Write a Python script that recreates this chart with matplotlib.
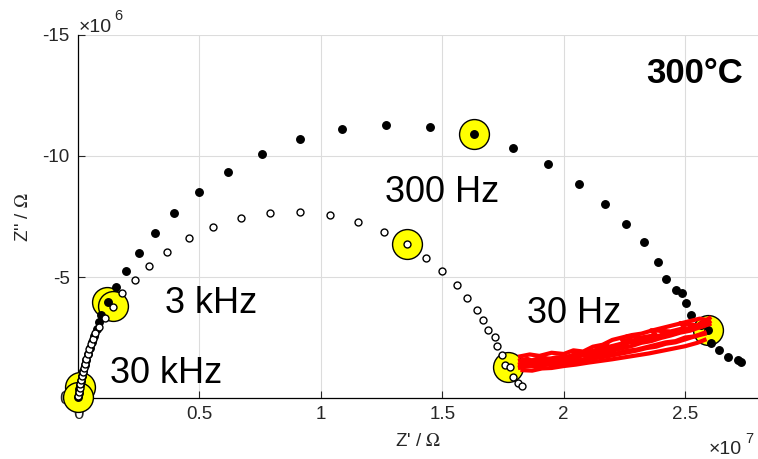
import matplotlib
matplotlib.use("Agg")
import matplotlib.pyplot as plt
import numpy as np

plt.rcParams['font.family'] = ['Liberation Sans', 'DejaVu Sans']
plt.rcParams['mathtext.fontset'] = 'stix'

# Series A (filled black dots): Z' (x1e7), Z'' (x1e6)
a_re = [0.000, 0.004, 0.004, 0.008, 0.012, 0.016, 0.021, 0.029, 0.033, 0.041, 0.049, 0.058,
        0.066, 0.078, 0.087, 0.095, 0.124, 0.157, 0.198, 0.251, 0.317, 0.396, 0.499, 0.618,
        0.758, 0.915, 1.088, 1.270, 1.451, 1.632, 1.793, 1.937, 2.061, 2.168, 2.255, 2.329,
        2.387, 2.420, 2.461, 2.486, 2.502, 2.523, 2.564, 2.593, 2.605, 2.638, 2.675, 2.716,
        2.729]
a_im = [-0.04, -0.21, -0.37, -0.54, -0.70, -0.91, -1.12, -1.36, -1.57, -1.82, -2.07, -2.31,
        -2.56, -2.85, -3.14, -3.43, -3.97, -4.59, -5.25, -5.99, -6.82, -7.64, -8.51, -9.34,
        -10.08, -10.70, -11.12, -11.28, -11.20, -10.91, -10.33, -9.67, -8.84, -8.02, -7.19, -6.45,
        -5.62, -4.92, -4.46, -4.34, -3.93, -3.43, -3.02, -2.81, -2.27, -1.98, -1.69, -1.57,
        -1.49]

# Series B (open circles)
b_re = [0.000, 0.004, 0.008, 0.008, 0.012, 0.016, 0.021, 0.025, 0.029, 0.033, 0.041, 0.045,
        0.054, 0.062, 0.070, 0.087, 0.111, 0.144, 0.181, 0.235, 0.293, 0.367, 0.458, 0.556,
        0.672, 0.791, 0.915, 1.039, 1.154, 1.261, 1.356, 1.434, 1.500, 1.562, 1.603, 1.641,
        1.669, 1.690, 1.715, 1.727, 1.744, 1.760, 1.777, 1.793, 1.810, 1.830]
b_im = [-0.08, -0.25, -0.41, -0.58, -0.74, -0.91, -1.07, -1.24, -1.40, -1.61, -1.82, -2.02,
        -2.23, -2.44, -2.69, -2.93, -3.31, -3.76, -4.34, -4.88, -5.45, -6.03, -6.61, -7.07,
        -7.44, -7.64, -7.69, -7.56, -7.27, -6.86, -6.36, -5.79, -5.25, -4.67, -4.13, -3.64,
        -3.22, -2.81, -2.52, -2.15, -1.78, -1.36, -1.28, -0.87, -0.62, -0.50]

# Highlighted frequencies (30 kHz, 3 kHz, 300 Hz, 30 Hz)
hl_a_re = [0.008, 0.120, 1.632, 2.593]
hl_a_im = [-0.45, -3.97, -10.91, -2.81]
hl_b_re = [0.000, 0.144, 1.356, 1.772]
hl_b_im = [-0.04, -3.80, -6.36, -1.28]

# Red noisy trace (several passes)
red_traces = [
    ([1.83, 1.87, 1.91, 1.95, 2.00, 2.05, 2.10, 2.15, 2.20, 2.25, 2.30, 2.35, 2.40, 2.45, 2.50, 2.55, 2.58],
     [-1.15, -1.13, -1.22, -1.24, -1.32, -1.38, -1.46, -1.53, -1.60, -1.68, -1.76, -1.84, -1.94, -2.04, -2.14, -2.28, -2.40]),
    ([1.82, 1.86, 1.90, 1.95, 2.00, 2.04, 2.08, 2.12, 2.16, 2.20, 2.24, 2.28, 2.32, 2.36, 2.40, 2.44, 2.48, 2.52, 2.56, 2.59],
     [-1.72, -1.80, -1.74, -1.87, -1.82, -1.97, -1.92, -2.12, -2.20, -2.40, -2.50, -2.60, -2.66, -2.78, -2.88, -2.98, -3.08, -3.18, -3.28, -3.22]),
    ([1.84, 1.90, 1.96, 2.02, 2.06, 2.04, 2.10, 2.16, 2.14, 2.20, 2.26, 2.24, 2.30, 2.36, 2.42, 2.40, 2.46, 2.52, 2.58],
     [-1.45, -1.50, -1.55, -1.62, -1.75, -1.85, -1.80, -1.90, -2.05, -2.10, -2.20, -2.40, -2.35, -2.45, -2.60, -2.75, -2.70, -2.85, -3.00]),
    ([2.58, 2.54, 2.50, 2.46, 2.42, 2.38, 2.34, 2.30, 2.26, 2.22, 2.18, 2.14, 2.10, 2.06, 2.02, 1.98, 1.94, 1.90, 1.86, 1.82],
     [-2.70, -2.55, -2.50, -2.35, -2.30, -2.20, -2.10, -2.00, -1.95, -1.85, -1.80, -1.70, -1.65, -1.55, -1.52, -1.45, -1.42, -1.40, -1.35, -1.30]),
    ([2.00, 2.05, 2.10, 2.15, 2.18, 2.16, 2.22, 2.28, 2.26, 2.32, 2.38, 2.36, 2.44, 2.50, 2.48, 2.55, 2.60],
     [-1.70, -1.72, -1.85, -2.00, -2.25, -2.05, -2.20, -2.35, -2.55, -2.50, -2.60, -2.80, -2.75, -2.90, -3.10, -3.00, -3.30]),
    ([1.82, 1.85, 1.88, 1.92, 1.96, 2.00, 2.04, 2.08, 2.12, 2.16, 2.20, 2.24, 2.28, 2.32, 2.36, 2.40, 2.44, 2.48, 2.52, 2.56, 2.60],
     [-1.55, -1.62, -1.50, -1.66, -1.58, -1.72, -1.60, -1.78, -1.70, -1.88, -1.95, -2.05, -2.15, -2.28, -2.35, -2.48, -2.58, -2.70, -2.78, -2.92, -3.05]),
    ([2.60, 2.57, 2.53, 2.49, 2.45, 2.41, 2.37, 2.33, 2.29, 2.25, 2.21, 2.17, 2.13, 2.09, 2.05, 2.01, 1.97, 1.93, 1.89, 1.85, 1.82],
     [-3.15, -2.95, -2.95, -2.80, -2.72, -2.62, -2.52, -2.45, -2.30, -2.28, -2.12, -2.02, -1.98, -1.86, -1.80, -1.70, -1.68, -1.60, -1.62, -1.50, -1.40]),
    ([1.82, 1.86, 1.90, 1.94, 1.98, 2.02, 2.06, 2.10, 2.14, 2.18, 2.22, 2.26, 2.30, 2.34, 2.38, 2.42, 2.46, 2.50, 2.54, 2.58],
     [-1.25, -1.32, -1.30, -1.40, -1.38, -1.48, -1.50, -1.60, -1.66, -1.72, -1.80, -1.88, -1.96, -2.06, -2.12, -2.24, -2.30, -2.42, -2.55, -2.65]),
]

x_ticks = [0, 0.5, 1, 1.5, 2, 2.5]
x_tick_labels = ['0', '0.5', '1', '1.5', '2', '2.5']
y_ticks = [0, -5, -10, -15]
y_tick_labels = ['0', '-5', '-10', '-15']

freq_labels = ['30 kHz', '3 kHz', '300 Hz', '30 Hz']
freq_label_pos = [(0.13, -0.62), (0.36, -3.5), (1.264, -8.11), (1.85, -3.09)]

XS, YS = 1e7, 1e6
tick_color = '#262626'

fig = plt.figure(figsize=(7.58, 4.59), dpi=100)
ax = fig.add_axes([78/758, 61/459, 680/758, 363/459])

ax.set_xlim(0, 2.8 * XS)
ax.set_ylim(0, -15 * YS)

ax.grid(True, color='#dcdcdc', linewidth=0.8)
ax.set_axisbelow(True)
for s in ['top', 'right']:
    ax.spines[s].set_visible(False)
for s in ['left', 'bottom']:
    ax.spines[s].set_color('black')
    ax.spines[s].set_linewidth(0.9)

ax.set_xticks([v * XS for v in x_ticks])
ax.set_xticklabels(x_tick_labels)
ax.set_yticks([v * YS for v in y_ticks])
ax.set_yticklabels(y_tick_labels)
ax.tick_params(direction='in', length=5, width=0.8, colors=tick_color, labelsize=13.5,
               labelcolor=tick_color, pad=6)

# yellow highlight circles
ax.plot(np.array(hl_a_re) * XS, np.array(hl_a_im) * YS, 'o', ms=21.5, mfc='#ffff00',
        mec='black', mew=1.0, ls='none', clip_on=False, zorder=3)
ax.plot(np.array(hl_b_re) * XS, np.array(hl_b_im) * YS, 'o', ms=21.5, mfc='#ffff00',
        mec='black', mew=1.0, ls='none', clip_on=False, zorder=3)

ax.plot(np.array(a_re) * XS, np.array(a_im) * YS, 'o', ms=5.4, mfc='black', mec='black',
        ls='none', clip_on=False, zorder=4)
ax.plot(np.array(b_re) * XS, np.array(b_im) * YS, 'o', ms=5.0, mfc='white', mec='black',
        mew=1.0, ls='none', clip_on=False, zorder=4)

for xs, ys in red_traces:
    ax.plot(np.array(xs) * XS, np.array(ys) * YS, '-', color='red', lw=3.0, zorder=5,
            solid_joinstyle='round')

for lab, (px, py) in zip(freq_labels, freq_label_pos):
    ax.text(px * XS, py * YS, lab, fontsize=26, color='black', ha='left', va='baseline',
            zorder=6)

fig.text(743/758, 1 - 83/459, '300°C', fontsize=25, fontweight='bold', ha='right',
         va='baseline')

# axis labels
fig.text(418/758, 1 - 446/459, r"Z' / $\Omega$", fontsize=13.5, color=tick_color,
         ha='center', va='baseline')
fig.text(24/758, 1 - 217/459, r"Z'' / $\Omega$", fontsize=13.5, color=tick_color,
         ha='center', va='center', rotation=90)

# exponent labels
fig.text(79/758, 1 - 32/459, '×10', fontsize=14, color=tick_color, ha='left', va='baseline')
fig.text(114/758, 1 - 20/459, '6', fontsize=10.5, color=tick_color, ha='left', va='baseline')
fig.text(709/758, 1 - 454/459, '×10', fontsize=14, color=tick_color, ha='left', va='baseline')
fig.text(745/758, 1 - 443/459, '7', fontsize=10.5, color=tick_color, ha='left', va='baseline')

fig.savefig('out.png', dpi=100)
